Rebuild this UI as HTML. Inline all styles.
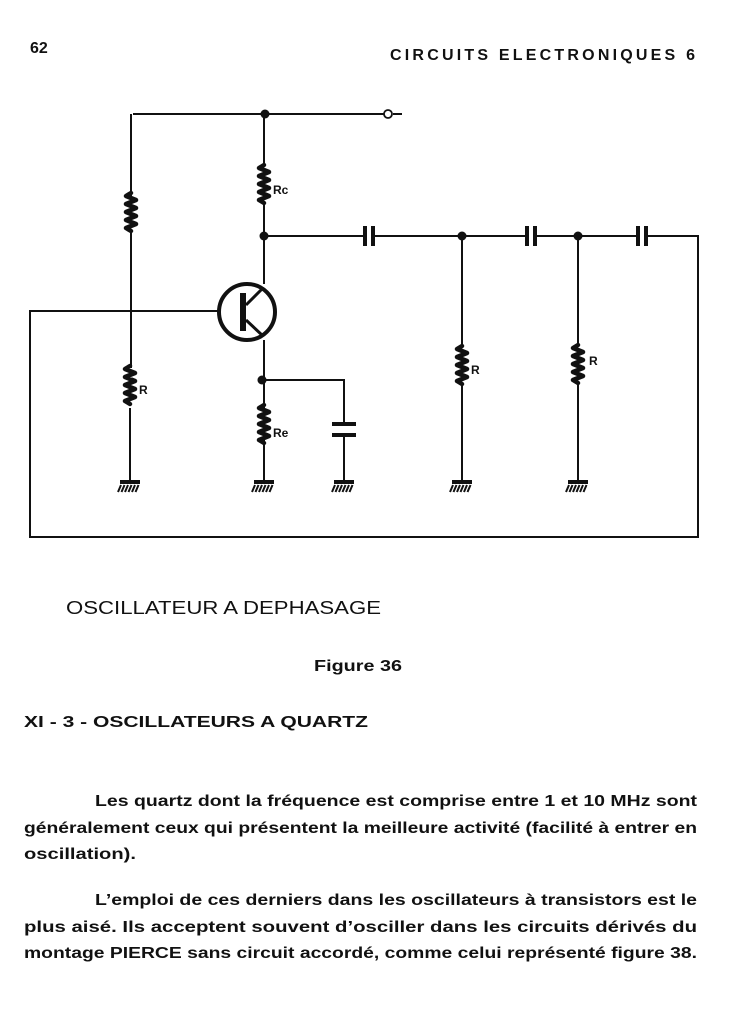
<!DOCTYPE html>
<html><head><meta charset="utf-8"><style>
html,body{margin:0;padding:0;background:#fff}
svg{display:block}
text{font-family:"Liberation Sans",sans-serif;fill:#111}
</style></head><body>
<svg width="737" height="1024" viewBox="0 0 737 1024" xmlns="http://www.w3.org/2000/svg">
<defs>
<g id="res"><path d="M0,0 l-5,3 l10,4 l-10,4 l10,4 l-10,4 l10,4 l-10,4 l10,4 l-10,4 l5,3" fill="none" stroke="#111" stroke-width="4.5" stroke-linejoin="round" stroke-linecap="round"/></g>
<g id="gnd"><rect x="-10" y="0" width="20" height="4" fill="#111"/><path d="M-9,5 l-3,7 M-5.5,5 l-3,7 M-2,5 l-3,7 M1.5,5 l-3,7 M5,5 l-3,7 M8.5,5 l-3,7" stroke="#111" stroke-width="2"/></g>
<g id="cap"><rect x="-6" y="-10" width="4" height="20" fill="#111"/><rect x="2" y="-10" width="4" height="20" fill="#111"/></g>
</defs>
<text x="30" y="53" font-size="16" font-weight="bold">62</text>
<text x="390" y="60" font-size="16" font-weight="bold" textLength="305" lengthAdjust="spacing">CIRCUITS ELECTRONIQUES 6</text>
<g stroke="#111" stroke-width="2" fill="none">
<path d="M133,114 H384"/><path d="M393,114 H402"/>
<path d="M131,114 V200 M131,230 V368 M130,408 V480"/>
<path d="M264,114 V165 M264,205 V284 M264,340 V480"/>
<path d="M264,236 H366 M372,236 H526 M535,236 H638 M646,236 H698 V537 H30 V311 H219"/>
<path d="M462,236 V346 M462,386 V480"/>
<path d="M578,236 V345 M578,385 V480"/>
<path d="M264,380 H344 V425 M344,435 V480"/>
</g>
<circle cx="388" cy="114" r="4" fill="#fff" stroke="#111" stroke-width="1.8"/>
<circle cx="265" cy="114" r="4.5" fill="#111"/>
<circle cx="264" cy="236" r="4.5" fill="#111"/>
<circle cx="462" cy="236" r="4.5" fill="#111"/>
<circle cx="578" cy="236" r="4.5" fill="#111"/>
<circle cx="262" cy="380" r="4.5" fill="#111"/>
<circle cx="247" cy="312" r="28" fill="none" stroke="#111" stroke-width="4"/>
<rect x="240" y="293" width="6" height="38" fill="#111"/>
<path d="M246,305 L263,288 M246,320 L263,336" stroke="#111" stroke-width="3"/>
<use href="#res" x="131" y="193"/>
<use href="#res" x="130" y="366"/>
<use href="#res" x="264" y="165"/>
<use href="#res" x="264" y="405"/>
<use href="#res" x="462" y="346"/>
<use href="#res" x="578" y="345"/>
<use href="#cap" x="369" y="236"/>
<use href="#cap" x="531" y="236"/>
<use href="#cap" x="642" y="236"/>
<rect x="332" y="422" width="24" height="4" fill="#111"/>
<rect x="332" y="433" width="24" height="4" fill="#111"/>
<use href="#gnd" x="130" y="480"/>
<use href="#gnd" x="264" y="480"/>
<use href="#gnd" x="344" y="480"/>
<use href="#gnd" x="462" y="480"/>
<use href="#gnd" x="578" y="480"/>
<g font-size="12" font-weight="bold">
<text x="273" y="194">Rc</text>
<text x="139" y="394">R</text>
<text x="273" y="437">Re</text>
<text x="471" y="374">R</text>
<text x="589" y="365">R</text>
</g>
<text x="66" y="614" font-size="18" textLength="315" lengthAdjust="spacingAndGlyphs">OSCILLATEUR A DEPHASAGE</text>
<text x="314" y="671" font-size="16" font-weight="bold" textLength="88" lengthAdjust="spacingAndGlyphs">Figure 36</text>
<text x="24" y="727" font-size="16" font-weight="bold" textLength="344" lengthAdjust="spacingAndGlyphs">XI - 3 - OSCILLATEURS A QUARTZ</text>
<g font-size="16" font-weight="bold">
<text x="95" y="806" textLength="602" lengthAdjust="spacingAndGlyphs">Les quartz dont la fréquence est comprise entre 1 et 10 MHz sont</text>
<text x="24" y="833" textLength="673" lengthAdjust="spacingAndGlyphs">généralement ceux qui présentent la meilleure activité (facilité à entrer en</text>
<text x="24" y="859" textLength="112" lengthAdjust="spacingAndGlyphs">oscillation).</text>
<text x="95" y="905" textLength="602" lengthAdjust="spacingAndGlyphs">L’emploi de ces derniers dans les oscillateurs à transistors est le</text>
<text x="24" y="932" textLength="673" lengthAdjust="spacingAndGlyphs">plus aisé. Ils acceptent souvent d’osciller dans les circuits dérivés du</text>
<text x="24" y="958" textLength="673" lengthAdjust="spacingAndGlyphs">montage PIERCE sans circuit accordé, comme celui représenté figure 38.</text>
</g>
</svg>
</body></html>
